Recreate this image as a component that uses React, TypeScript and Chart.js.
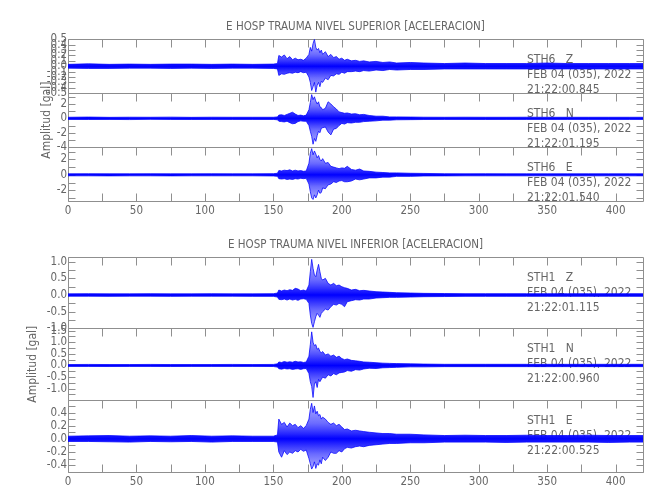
import { useEffect, useRef } from 'react';
import { Chart, registerables } from 'chart.js';

Chart.register(...registerables);

const FONT = "'Liberation Sans Narrow', 'DejaVu Sans Condensed', 'Liberation Sans', Arial, sans-serif";
const TEXT = '#666666';
const LINE = '#8f8f8f';
const WAVE = 'rgba(0,0,255,0.95)';

// ---------------- data ----------------
const TITLE_TOP = 'E HOSP TRAUMA NIVEL SUPERIOR [ACELERACION]';
const TITLE_BOT = 'E HOSP TRAUMA NIVEL INFERIOR [ACELERACION]';
const Y_TITLE = 'Amplitud [gal]';
const DATE_LABEL = 'FEB 04 (035), 2022';

const X_TICKS = [0, 25, 50, 75, 100, 125, 150, 175, 200, 225, 250, 275, 300, 325, 350, 375, 400];
const X_LABELS = [0, 50, 100, 150, 200, 250, 300, 350, 400];

// envelope sample times (s)
const TIME = [0, 15, 30, 45, 60, 75, 90, 105, 120, 135, 150, 153, 154, 156, 158, 160, 162, 164, 166, 168, 170, 172, 174, 176, 177, 178, 179, 180, 181, 182, 183, 184, 185, 186, 188, 190, 192, 194, 196, 198, 200, 202, 204, 207, 210, 213, 216, 220, 225, 230, 235, 240, 250, 260, 275, 290, 305, 320, 335, 350, 365, 380, 395, 410, 420];

// STH6 Z (upper / lower envelope)
const STH6_Z_UP = [0.035, 0.045, 0.035, 0.04, 0.035, 0.04, 0.04, 0.035, 0.04, 0.035, 0.04, 0.05, 0.2, 0.17, 0.21, 0.14, 0.18, 0.12, 0.15, 0.12, 0.13, 0.11, 0.15, 0.22, 0.35, 0.28, 0.42, 0.5, 0.35, 0.3, 0.33, 0.25, 0.3, 0.22, 0.27, 0.18, 0.22, 0.16, 0.18, 0.13, 0.15, 0.11, 0.13, 0.1, 0.11, 0.09, 0.1, 0.08, 0.09, 0.07, 0.08, 0.06, 0.07, 0.06, 0.05, 0.06, 0.05, 0.05, 0.05, 0.06, 0.05, 0.05, 0.05, 0.05, 0.05];
const STH6_Z_LO = [-0.035, -0.04, -0.04, -0.035, -0.035, -0.04, -0.035, -0.04, -0.035, -0.035, -0.04, -0.05, -0.17, -0.14, -0.15, -0.13, -0.12, -0.13, -0.11, -0.12, -0.1, -0.12, -0.11, -0.2, -0.3, -0.45, -0.38, -0.3, -0.48, -0.35, -0.3, -0.38, -0.28, -0.3, -0.22, -0.25, -0.17, -0.18, -0.14, -0.15, -0.11, -0.13, -0.1, -0.1, -0.09, -0.1, -0.08, -0.09, -0.07, -0.08, -0.06, -0.07, -0.06, -0.06, -0.05, -0.05, -0.05, -0.05, -0.05, -0.05, -0.05, -0.05, -0.05, -0.05, -0.05];

// STH6 N
const STH6_N_UP = [0.15, 0.18, 0.14, 0.16, 0.15, 0.17, 0.14, 0.16, 0.15, 0.15, 0.15, 0.2, 0.45, 0.5, 0.4, 0.55, 0.7, 0.85, 0.6, 0.4, 0.45, 0.35, 0.45, 1.2, 2.2, 3.3, 2.6, 3.0, 2.4, 2.0, 2.3, 1.6, 1.5, 1.2, 1.4, 2.3, 2.0, 1.6, 1.3, 0.9, 0.8, 0.7, 0.75, 0.6, 0.65, 0.5, 0.55, 0.4, 0.3, 0.3, 0.2, 0.2, 0.18, 0.16, 0.15, 0.16, 0.15, 0.15, 0.16, 0.15, 0.15, 0.15, 0.15, 0.15, 0.15];
const STH6_N_LO = [-0.15, -0.16, -0.15, -0.17, -0.14, -0.15, -0.16, -0.15, -0.15, -0.15, -0.15, -0.2, -0.4, -0.45, -0.5, -0.4, -0.6, -0.75, -0.7, -0.45, -0.35, -0.4, -0.4, -1.0, -1.8, -2.5, -3.6, -2.8, -3.2, -2.4, -1.8, -2.0, -1.4, -1.3, -1.2, -1.9, -2.3, -1.5, -1.4, -1.0, -0.7, -0.8, -0.6, -0.65, -0.55, -0.55, -0.45, -0.4, -0.35, -0.25, -0.25, -0.2, -0.18, -0.16, -0.15, -0.15, -0.16, -0.15, -0.15, -0.15, -0.15, -0.15, -0.15, -0.15, -0.15];

// STH6 E
const STH6_E_UP = [0.13, 0.14, 0.13, 0.13, 0.14, 0.13, 0.13, 0.14, 0.13, 0.13, 0.15, 0.2, 0.55, 0.5, 0.6, 0.55, 0.65, 0.5, 0.6, 0.5, 0.55, 0.45, 0.5, 1.5, 2.8, 3.4, 2.6, 3.1, 2.7, 2.2, 2.5, 2.0, 1.8, 2.1, 1.5, 1.6, 1.1, 1.0, 0.9, 0.8, 0.9, 0.85, 1.1, 0.7, 0.6, 0.75, 0.5, 0.45, 0.35, 0.3, 0.25, 0.25, 0.2, 0.18, 0.14, 0.13, 0.14, 0.13, 0.13, 0.13, 0.13, 0.13, 0.13, 0.13, 0.13];
const STH6_E_LO = [-0.13, -0.13, -0.14, -0.13, -0.13, -0.14, -0.13, -0.13, -0.13, -0.13, -0.15, -0.2, -0.5, -0.55, -0.5, -0.6, -0.55, -0.6, -0.5, -0.55, -0.45, -0.5, -0.45, -1.2, -2.2, -3.0, -3.2, -2.6, -3.0, -2.6, -2.0, -2.4, -2.3, -1.7, -1.8, -1.3, -1.2, -0.9, -1.0, -0.8, -0.75, -0.9, -0.9, -0.8, -0.55, -0.65, -0.55, -0.4, -0.4, -0.3, -0.3, -0.2, -0.2, -0.15, -0.14, -0.13, -0.13, -0.13, -0.13, -0.13, -0.13, -0.13, -0.13, -0.13, -0.13];

// STH1 Z
const STH1_Z_UP = [0.035, 0.04, 0.035, 0.035, 0.04, 0.035, 0.035, 0.04, 0.035, 0.035, 0.04, 0.06, 0.15, 0.12, 0.15, 0.13, 0.16, 0.14, 0.2, 0.18, 0.13, 0.15, 0.12, 0.3, 0.7, 1.07, 0.8, 0.6, 0.55, 0.75, 0.92, 0.7, 0.5, 0.45, 0.5, 0.35, 0.3, 0.35, 0.28, 0.3, 0.25, 0.22, 0.2, 0.15, 0.17, 0.13, 0.14, 0.12, 0.1, 0.09, 0.08, 0.07, 0.06, 0.05, 0.045, 0.04, 0.04, 0.04, 0.04, 0.04, 0.04, 0.04, 0.04, 0.04, 0.04];
const STH1_Z_LO = [-0.035, -0.035, -0.04, -0.035, -0.035, -0.04, -0.035, -0.035, -0.035, -0.04, -0.04, -0.06, -0.13, -0.14, -0.12, -0.15, -0.12, -0.15, -0.13, -0.16, -0.12, -0.11, -0.13, -0.25, -0.6, -0.85, -0.97, -0.8, -0.65, -0.55, -0.6, -0.67, -0.55, -0.5, -0.42, -0.45, -0.35, -0.28, -0.3, -0.25, -0.28, -0.35, -0.2, -0.17, -0.14, -0.15, -0.12, -0.12, -0.09, -0.08, -0.07, -0.07, -0.06, -0.05, -0.045, -0.04, -0.04, -0.04, -0.04, -0.04, -0.04, -0.04, -0.04, -0.04, -0.04];

// STH1 N
const STH1_N_UP = [0.04, 0.045, 0.04, 0.04, 0.045, 0.04, 0.04, 0.04, 0.045, 0.04, 0.045, 0.07, 0.15, 0.13, 0.17, 0.14, 0.16, 0.14, 0.18, 0.15, 0.16, 0.13, 0.15, 0.4, 0.9, 1.45, 1.0, 0.85, 0.9, 0.7, 0.75, 0.6, 0.55, 0.6, 0.45, 0.5, 0.4, 0.45, 0.35, 0.4, 0.3, 0.25, 0.28, 0.22, 0.2, 0.18, 0.15, 0.14, 0.12, 0.1, 0.09, 0.08, 0.07, 0.06, 0.05, 0.05, 0.05, 0.05, 0.05, 0.05, 0.05, 0.05, 0.05, 0.05, 0.05];
const STH1_N_LO = [-0.04, -0.04, -0.045, -0.04, -0.04, -0.045, -0.04, -0.04, -0.04, -0.04, -0.045, -0.07, -0.14, -0.16, -0.13, -0.15, -0.14, -0.17, -0.15, -0.14, -0.17, -0.14, -0.13, -0.35, -0.7, -0.9, -1.38, -0.8, -0.7, -0.95, -0.6, -0.7, -0.6, -0.5, -0.55, -0.4, -0.45, -0.35, -0.4, -0.32, -0.3, -0.28, -0.22, -0.25, -0.18, -0.2, -0.15, -0.12, -0.13, -0.1, -0.09, -0.08, -0.06, -0.06, -0.05, -0.05, -0.05, -0.05, -0.05, -0.05, -0.05, -0.05, -0.05, -0.05, -0.05];

// STH1 E
const STH1_E_UP = [0.04, 0.045, 0.05, 0.04, 0.045, 0.04, 0.05, 0.04, 0.045, 0.04, 0.04, 0.06, 0.3, 0.22, 0.25, 0.18, 0.24, 0.2, 0.22, 0.17, 0.2, 0.16, 0.2, 0.3, 0.45, 0.54, 0.4, 0.5, 0.38, 0.42, 0.35, 0.37, 0.3, 0.33, 0.3, 0.25, 0.22, 0.24, 0.2, 0.22, 0.18, 0.14, 0.15, 0.12, 0.13, 0.12, 0.11, 0.1, 0.09, 0.08, 0.08, 0.07, 0.07, 0.06, 0.05, 0.055, 0.05, 0.05, 0.055, 0.05, 0.05, 0.055, 0.05, 0.05, 0.05];
const STH1_E_LO = [-0.04, -0.04, -0.045, -0.05, -0.04, -0.045, -0.04, -0.05, -0.04, -0.04, -0.04, -0.05, -0.2, -0.28, -0.18, -0.24, -0.2, -0.22, -0.18, -0.2, -0.16, -0.19, -0.17, -0.3, -0.38, -0.46, -0.42, -0.35, -0.45, -0.38, -0.4, -0.32, -0.38, -0.28, -0.33, -0.28, -0.2, -0.22, -0.22, -0.18, -0.2, -0.15, -0.13, -0.14, -0.12, -0.11, -0.12, -0.1, -0.09, -0.08, -0.07, -0.07, -0.06, -0.06, -0.05, -0.05, -0.05, -0.055, -0.05, -0.05, -0.05, -0.05, -0.055, -0.05, -0.05];

// y tick values and labelled values per panel
const P1_TICKS = [-0.5, -0.4, -0.3, -0.2, -0.1, 0, 0.1, 0.2, 0.3, 0.4, 0.5];
const P1_LABELS = [-0.5, -0.4, -0.3, -0.2, -0.1, 0, 0.1, 0.2, 0.3, 0.4, 0.5];
const P2_TICKS = [-4, -3, -2, -1, 0, 1, 2, 3];
const P2_LABELS = [-4, -2, 0, 2];
const P3_TICKS = [-3, -2, -1, 0, 1, 2, 3];
const P3_LABELS = [-2, 0, 2];
const P4_TICKS = [-1, -0.75, -0.5, -0.25, 0, 0.25, 0.5, 0.75, 1];
const P4_LABELS = [-1, -0.5, 0, 0.5, 1];
const P5_TICKS = [-1.25, -1, -0.75, -0.5, -0.25, 0, 0.25, 0.5, 0.75, 1, 1.25, 1.5];
const P5_LABELS = [-1, -0.5, 0, 0.5, 1, 1.5];
const P6_TICKS = [-0.5, -0.4, -0.3, -0.2, -0.1, 0, 0.1, 0.2, 0.3, 0.4, 0.5];
const P6_LABELS = [-0.4, -0.2, 0, 0.2, 0.4];

type Panel = {
  id: string; up: number[]; lo: number[]; min: number; max: number;
  ticks: number[]; labels: number[]; digits: number; station: string; time: string;
};

const TOP_PANELS: Panel[] = [
  { id: 'p1', up: STH6_Z_UP, lo: STH6_Z_LO, min: -0.5, max: 0.5, ticks: P1_TICKS, labels: P1_LABELS, digits: 1, station: 'STH6   Z', time: '21:22:00.845' },
  { id: 'p2', up: STH6_N_UP, lo: STH6_N_LO, min: -4, max: 3.5, ticks: P2_TICKS, labels: P2_LABELS, digits: 0, station: 'STH6   N', time: '21:22:01.195' },
  { id: 'p3', up: STH6_E_UP, lo: STH6_E_LO, min: -3.4, max: 3.6, ticks: P3_TICKS, labels: P3_LABELS, digits: 0, station: 'STH6   E', time: '21:22:01.540' },
];
const BOT_PANELS: Panel[] = [
  { id: 'p4', up: STH1_Z_UP, lo: STH1_Z_LO, min: -1.0, max: 1.15, ticks: P4_TICKS, labels: P4_LABELS, digits: 1, station: 'STH1   Z', time: '21:22:01.115' },
  { id: 'p5', up: STH1_N_UP, lo: STH1_N_LO, min: -1.49, max: 1.6, ticks: P5_TICKS, labels: P5_LABELS, digits: 1, station: 'STH1   N', time: '21:22:00.960' },
  { id: 'p6', up: STH1_E_UP, lo: STH1_E_LO, min: -0.5, max: 0.59, ticks: P6_TICKS, labels: P6_LABELS, digits: 1, station: 'STH1   E', time: '21:22:00.525' },
];

function makeDecor(panels: Panel[]) {
  return {
    id: 'decor',
    beforeDatasetsDraw(chart: any) {
      const { ctx, chartArea: ca } = chart;
      const xs = chart.scales.x;
      const L = Math.round(ca.left) + 0.5;
      const R = Math.round(ca.right) + 0.5;
      ctx.save();
      ctx.strokeStyle = LINE;
      ctx.lineWidth = 1;
      panels.forEach((p, i) => {
        const s = chart.scales[p.id];
        const top = Math.round(s.top) + 0.5;
        const bot = Math.round(s.bottom) + 0.5;
        ctx.beginPath();
        ctx.rect(L, top, R - L, bot - top);
        s.ticks.forEach((t: any) => {
          const y = Math.round(s.getPixelForValue(t.value)) + 0.5;
          ctx.moveTo(L, y); ctx.lineTo(L + 7, y);
          ctx.moveTo(R - 7, y); ctx.lineTo(R, y);
        });
        xs.ticks.forEach((t: any) => {
          const x = Math.round(xs.getPixelForValue(t.value)) + 0.5;
          ctx.moveTo(x, top); ctx.lineTo(x, top + 8);
          if (i === panels.length - 1) { ctx.moveTo(x, bot); ctx.lineTo(x, bot - 8); }
        });
        ctx.stroke();
        ctx.fillStyle = TEXT;
        ctx.font = `12px ${FONT}`;
        ctx.textAlign = 'left';
        ctx.textBaseline = 'middle';
        const tx = ca.right - 116;
        ctx.fillText(p.station, tx, s.top + 21);
        ctx.fillText(DATE_LABEL, tx, s.top + 36);
        ctx.fillText(p.time, tx, s.top + 51);
      });
      ctx.restore();
    },
  };
}

// darker core near the zero line, lighter towards the panel edges
function waveFill(panelId: string) {
  return (c: any) => {
    const chart = c.chart;
    const s = chart.scales && chart.scales[panelId];
    if (!s || !chart.chartArea) return 'rgba(30,30,255,0.75)';
    const h = s.bottom - s.top;
    if (h <= 0) return 'rgba(30,30,255,0.75)';
    const z = Math.min(1, Math.max(0, (s.getPixelForValue(0) - s.top) / h));
    const g = chart.ctx.createLinearGradient(0, s.top, 0, s.bottom);
    g.addColorStop(0, 'rgba(110,110,255,0.55)');
    g.addColorStop(Math.max(0, z - 0.22), 'rgba(60,60,255,0.75)');
    g.addColorStop(z, 'rgba(0,0,255,1)');
    g.addColorStop(Math.min(1, z + 0.22), 'rgba(60,60,255,0.75)');
    g.addColorStop(1, 'rgba(110,110,255,0.55)');
    return g;
  };
}

function buildConfig(panels: Panel[], title: string, padLeft: number, padTop: number, xHeight: number): any {
  const axisWidth = 68 - padLeft;
  const datasets: any[] = [];
  panels.forEach((p) => {
    datasets.push({
      data: TIME.map((t, i) => ({ x: t, y: p.up[i] })),
      yAxisID: p.id, borderColor: WAVE, borderWidth: 0.8, fill: false,
    });
    datasets.push({
      data: TIME.map((t, i) => ({ x: t, y: p.lo[i] })),
      yAxisID: p.id, borderColor: WAVE, borderWidth: 0.8, fill: '-1', backgroundColor: waveFill(p.id),
    });
  });
  const scales: any = {
    x: {
      type: 'linear', position: 'bottom', min: 0, max: 420,
      grid: { display: false, drawTicks: false }, border: { display: false },
      afterBuildTicks: (s: any) => { s.ticks = X_TICKS.map((v) => ({ value: v })); },
      afterFit: (s: any) => { s.height = xHeight; },
      ticks: {
        autoSkip: false, maxRotation: 0, padding: 3, color: TEXT,
        font: { family: FONT, size: 11.5 },
        callback: (v: number) => (X_LABELS.includes(v) ? String(v) : ''),
      },
    },
  };
  // last defined left axis is placed on top of the stack
  [...panels].reverse().forEach((p) => {
    const middle = p === panels[1];
    scales[p.id] = {
      type: 'linear', position: 'left', stack: 'g', stackWeight: 1,
      min: p.min, max: p.max,
      grid: { display: false, drawTicks: false }, border: { display: false },
      afterBuildTicks: (s: any) => { s.ticks = p.ticks.map((v) => ({ value: v })); },
      afterFit: (s: any) => { s.width = axisWidth; },
      ticks: {
        autoSkip: false, padding: 1, color: TEXT,
        font: { family: FONT, size: 11.5 },
        callback: (v: number) => (p.labels.some((l) => Math.abs(l - v) < 1e-9) ? v.toFixed(p.digits) : ''),
      },
      title: {
        display: middle, text: Y_TITLE, color: TEXT,
        font: { family: FONT, size: 12 }, padding: { top: 4, bottom: 0 },
      },
    };
  });
  return {
    type: 'line',
    data: { datasets },
    options: {
      animation: false, responsive: false, maintainAspectRatio: false, events: [],
      layout: { padding: { left: padLeft, right: 7, top: padTop, bottom: 0 } },
      elements: { line: { tension: 0 }, point: { radius: 0 } },
      plugins: {
        legend: { display: false }, tooltip: { enabled: false },
        title: {
          display: true, text: title, fullSize: false, color: TEXT,
          font: { family: FONT, size: 11.5, weight: 'normal' }, padding: { top: 0, bottom: 5 },
        },
      },
      scales,
    },
    plugins: [makeDecor(panels)],
  };
}

export default function App() {
  const topRef = useRef<HTMLCanvasElement>(null);
  const botRef = useRef<HTMLCanvasElement>(null);
  useEffect(() => {
    const c1 = new Chart(topRef.current as HTMLCanvasElement, buildConfig(TOP_PANELS, TITLE_TOP, 35.6, 20.5, 27));
    const c2 = new Chart(botRef.current as HTMLCanvasElement, buildConfig(BOT_PANELS, TITLE_BOT, 22.1, 9.9, 28.3));
    return () => { c1.destroy(); c2.destroy(); };
  }, []);
  return (
    <div style={{ position: 'fixed', left: 0, top: 0, width: 650, height: 500, background: '#ffffff' }}>
      <canvas ref={topRef} width={650} height={228} style={{ position: 'absolute', left: 0, top: 0, width: 650, height: 228 }} />
      <canvas ref={botRef} width={650} height={272} style={{ position: 'absolute', left: 0, top: 228, width: 650, height: 272 }} />
    </div>
  );
}
